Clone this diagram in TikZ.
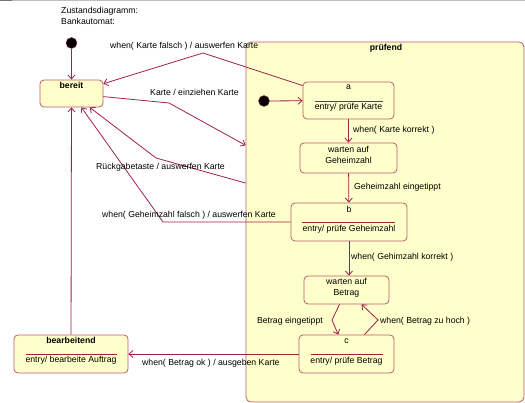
\documentclass[tikz,border=0pt]{standalone}
\usepackage{fontspec}
\setmainfont{Liberation Sans}
\usetikzlibrary{arrows.meta}

\definecolor{rand}{RGB}{186,92,112}
\definecolor{linie}{RGB}{160,32,72}
\definecolor{gelb}{RGB}{255,255,204}

\begin{document}
\begin{tikzpicture}[
        x=1pt, y=-1pt,
        font=\fontsize{8.7}{11}\selectfont,
        % Stati: rettangolo arrotondato giallo
        zustand/.style={
            draw=rand,
            fill=gelb,
            rounded corners=4pt,
            inner sep=0pt,
            line width=0.8pt
        },
        titel/.style={
            inner sep=0pt,
            text height=6.2pt,
            text depth=1.8pt
        },
        zweizeilig/.style={
            inner sep=0pt,
            align=center
        },
        beschr/.style={
            anchor=west,
            inner sep=0pt,
            text height=6.2pt,
            text depth=1.8pt
        },
        pfeil/.style={
            draw=linie,
            line width=0.8pt,
            -{Straight Barb[length=4pt,width=7pt]}
        },
        trenn/.style={draw=linie, line width=0.7pt},
        anfang/.style={
            circle,
            fill=black,
            draw=linie,
            minimum size=11pt,
            inner sep=0pt
        }
    ]

    \useasboundingbox (0,0) rectangle (525,403);
    \fill[black!25] (0,0) rectangle (525,1.2);
    \fill[black!55] (0,0) rectangle (12,1.2);

    % --- Titolo ---
    \node[anchor=west, inner sep=0pt, align=left] (kopf) at (61,15.5) {Zustandsdiagramm:\\Bankautomat:};

    % --- Stato bereit ---
    \node[anfang] (start) at (71.5,43) {};
    \node[zustand, minimum width=63pt, minimum height=27pt] (bereit) at (71.5,93.5) {};
    \node[titel] (bereit-titel) at (71.5,86.5) {\bfseries bereit};

    % --- Stato composto: prüfend ---
    \node[zustand, rounded corners=5pt, minimum width=278pt, minimum height=360pt] (pruefend) at (385,222) {};
    \node[titel] (pruefend-titel) at (386,48) {\bfseries prüfend};

    \node[anfang] (start2) at (264,101) {};

    \node[zustand, minimum width=91pt, minimum height=37pt] (a) at (348.5,100.5) {};
    \node[titel] (a-titel) at (348.5,87) {a};
    \draw[trenn] (315,101) -- (383,101);
    \node[titel] (a-eintrag) at (348.5,107.5) {entry/ prüfe Karte};

    \node[zustand, minimum width=97pt, minimum height=30pt] (wg) at (348.5,158) {};
    \node[zweizeilig] (wg-text) at (348.5,155) {warten auf\\Geheimzahl};

    \node[zustand, minimum width=116pt, minimum height=38pt] (b) at (349,222) {};
    \node[titel] (b-titel) at (349,210) {b};
    \draw[trenn] (302,222) -- (395,222);
    \node[titel] (b-eintrag) at (349,229.5) {entry/ prüfe Geheimzahl};

    \node[zustand, minimum width=85pt, minimum height=28pt] (wb) at (346.5,290) {};
    \node[zweizeilig] (wb-text) at (346.5,287.5) {warten auf\\Betrag};

    \node[zustand, minimum width=95pt, minimum height=38pt] (c) at (346.5,354) {};
    \node[titel] (c-titel) at (346.5,341) {c};
    \draw[trenn] (311,354) -- (383,354);
    \node[titel] (c-eintrag) at (346.5,361) {entry/ prüfe Betrag};

    % --- Stato bearbeitend ---
    \node[zustand, minimum width=114pt, minimum height=38pt] (bearbeitend) at (71,354) {};
    \node[titel] (bearbeitend-titel) at (71,341) {\bfseries bearbeitend};
    \draw[trenn] (26,354) -- (117,354);
    \node[titel] (bearbeitend-eintrag) at (71,360.5) {entry/ bearbeite Auftrag};

    % --- Punti di piega ---
    \coordinate (k1) at (169,103);
    \coordinate (f1) at (203,53);
    \coordinate (r1) at (156,158);
    \coordinate (g1) at (163,222);
    \coordinate (e1) at (332,320);
    \coordinate (h1) at (378,320);

    % --- Transizioni ---
    \draw[pfeil] (start) -- (bereit);
    \draw[pfeil] (bereit) -- (k1) -- (pruefend);
    \draw[pfeil] (a) -- (f1) -- (bereit);
    \draw[pfeil] (pruefend) -- (r1) -- (bereit);
    \draw[pfeil] (b) -- (g1) -- (bereit);
    \draw[pfeil] (start2) -- (a);
    \draw[pfeil] (a) -- (wg);
    \draw[pfeil] (wg) -- (b);
    \draw[pfeil] (b) -- (b |- wb.north);
    \draw[pfeil] (wb) -- (e1) -- (c);
    \draw[pfeil] (c) -- (h1) -- (wb);
    \draw[pfeil] (c) -- (bearbeitend);
    \draw[pfeil] (bearbeitend) -- (bereit);

    % --- Etichette ---
    \node[beschr] (l-falsch) at (110,46) {when( Karte falsch ) / auswerfen Karte};
    \node[beschr] (l-einziehen) at (150,93) {Karte / einziehen Karte};
    \node[beschr] (l-rueckgabe) at (96,167.5) {Rückgabetaste / auswerfen Karte};
    \node[beschr] (l-gfalsch) at (102,215) {when( Geheimzahl falsch ) / auswerfen Karte};
    \node[beschr] (l-kkorrekt) at (353,130.5) {when( Karte korrekt )};
    \node[beschr] (l-getippt) at (354,187) {Geheimzahl eingetippt};
    \node[beschr] (l-gkorrekt) at (351,257) {when( Gehimzahl korrekt )};
    \node[beschr, anchor=east] (l-betrag) at (323,321) {Betrag eingetippt};
    \node[beschr] (l-hoch) at (380,321) {when( Betrag zu hoch )};
    \node[beschr] (l-ok) at (142,363) {when( Betrag ok ) / ausgeben Karte};

\end{tikzpicture}
\end{document}
